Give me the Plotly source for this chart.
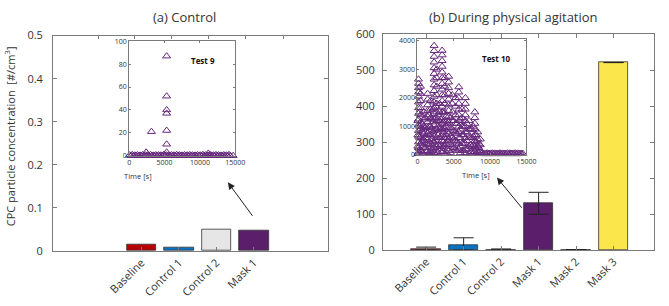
import plotly.graph_objects as go

W, H = 669, 306

# ---------------- data ----------------
ctrl_cats = ["Baseline", "Control 1", "Control 2", "Mask 1"]
ctrl_vals = [0.015, 0.0077, 0.0497, 0.048]
ctrl_colors = ["#b80000", "#0a72c2", "#e6e6e6", "#5a1e6b"]

agit_cats = ["Baseline", "Control 1", "Control 2", "Mask 1", "Mask 2", "Mask 3"]
agit_vals = [2.6, 13.0, 1.0, 129.5, 0.5, 521.0]
agit_err_plus = [5.5, 21.0, 2.0, 31.0, 0.5, None]
agit_err_minus = [2.6, 13.0, 1.0, 30.0, 0.5, None]
agit_colors = ["#b80000", "#0a72c2", "#e6e6e6", "#5a1e6b", "#2a9d8f", "#fbe64c"]

inset_ticks = [0, 5000, 10000, 15000]
inset_tick_text = ["0", "5000", "10000", "15000"]

# Test 9 (control inset): time [s], concentration [#/cm3]
test9_time = [2400, 3150, 5300, 5300, 5300, 5300, 5300, 5300, 5300, 11200, 14700,
              60, 250, 430, 610, 800, 980, 1170, 1350, 1540, 1720, 1910, 2090, 2280,
              2460, 2650, 2830, 3020, 3200, 3390, 3570, 3760, 3940, 4130, 4310, 4500,
              4680, 4870, 5050, 5240, 5420, 5610, 5790, 5980, 6160, 6350, 6530, 6720,
              6900, 7090, 7270, 7460, 7640, 7830, 8010, 8200, 8380, 8570, 8750, 8940,
              9120, 9310, 9490, 9680, 9860, 10050, 10230, 10420, 10600, 10790, 10970,
              11160, 11340, 11530, 11710, 11900, 12080, 12270, 12450, 12640, 12820,
              13010, 13190, 13380, 13560, 13750, 13930, 14120, 14300]
test9_conc = [3, 21, 87, 52, 40, 37, 22, 10, 3, 2, 0,
              0.5, 0, 0.8, 0, 0.4, 0, 0.6, 0, 0.3, 0, 0.7, 0, 0.5,
              0, 0.4, 0, 0.8, 0, 0.3, 0, 0.6, 0, 0.5, 0, 0.4,
              0, 0.7, 0, 0.5, 0, 0.3, 0, 0.6, 0, 0.4, 0, 0.8,
              0, 0.5, 0, 0.3, 0, 0.6, 0, 0.4, 0, 0.7, 0, 0.5,
              0, 0.3, 0, 0.6, 0, 0.4, 0, 0.8, 0, 0.5, 0,
              0.3, 0, 0.6, 0, 0.4, 0, 0.7, 0, 0.5, 0,
              0.3, 0, 0.6, 0, 0.4, 0, 0.8, 0]

# Test 10 (agitation inset): columns of readings at given times
test10_col_time = [150, 420, 900, 1400, 1800, 2300, 2650, 3050, 3400, 3750, 4300,
                   4800, 5250, 5700, 6150, 6600, 7100, 7500, 7900, 8300, 8650]
test10_col_conc = [
    [2650, 2500, 2350, 2200, 2050, 1850, 1650, 1450, 1250, 1050, 850, 650, 450, 250, 90],
    [2400, 2150, 1900, 1650, 1400, 1150, 900, 650, 400, 150],
    [1500, 1250, 1000, 750, 500, 250],
    [2150, 1950, 1750, 1550, 1350, 1150, 950, 750, 550, 350, 150],
    [1900, 1600, 1300, 1000, 700, 400, 120],
    [3830, 3650, 3450, 3250, 3050, 2850, 2650, 2450, 2250, 2050, 1850, 1650, 1450,
     1250, 1050, 850, 650, 450, 250, 80],
    [3000, 2700, 2400, 2100, 1800, 1500, 1200, 900, 600, 300],
    [1800, 1500, 1200, 900, 600, 300],
    [3660, 3500, 3300, 3100, 2900, 2700, 2500, 2300, 2100, 1900, 1700, 1500, 1300,
     1100, 900, 700, 500, 300, 100],
    [2700, 2400, 2100, 1800, 1500, 1200, 900, 600, 300],
    [2750, 2550, 2350, 2150, 1950, 1750, 1550, 1350, 1150, 950, 750, 550, 350, 150],
    [2100, 1800, 1500, 1200, 900, 600, 300],
    [2000, 1700, 1400, 1100, 800, 500, 200],
    [2380, 2200, 2000, 1800, 1600, 1400, 1200, 1000, 800, 600, 400, 200],
    [1600, 1300, 1000, 700, 400, 150],
    [2000, 1800, 1600, 1400, 1200, 1000, 800, 600, 400, 200, 80],
    [1200, 900, 600, 300],
    [900, 600, 300, 100],
    [1500, 1300, 1100, 900, 700, 500, 300, 120],
    [800, 550, 300, 100],
    [550, 350, 150],
]
# lower readings between the peaks
test10_fill_time = [60, 300, 600, 750, 1100, 1250, 1600, 2000, 2150, 2500, 2850, 3250,
                    3550, 3950, 4100, 4550, 5000, 5450, 5900, 6350, 6800, 7300, 7700,
                    8100, 8450]
test10_fill_conc = [
    [1200, 700, 300, 40], [1500, 1000, 600, 200], [1100, 800, 450, 120],
    [900, 550, 300, 60], [1300, 950, 600, 250], [1000, 700, 400, 100],
    [1400, 1000, 700, 350, 80], [1250, 900, 550, 200], [1600, 1150, 800, 450, 150],
    [1700, 1300, 900, 500, 200], [1400, 1000, 700, 350, 90], [1250, 950, 650, 350, 100],
    [1500, 1150, 800, 450, 120], [1350, 1000, 700, 400, 100], [1100, 800, 500, 200],
    [1300, 950, 650, 350, 80], [1200, 850, 550, 250], [1100, 750, 450, 150],
    [1250, 900, 600, 300, 70], [1000, 700, 400, 150], [1100, 800, 500, 200],
    [900, 600, 350, 100], [1000, 650, 350, 90], [700, 450, 200], [400, 250, 80],
]
test10_band_time = [8900, 9080, 9250, 9430, 9600, 9780, 9950, 10130, 10300, 10480, 10650,
                    10830, 11000, 11180, 11350, 11530, 11700, 11880, 12050, 12230, 12400,
                    12580, 12750, 12930, 13100, 13280, 13450, 13630, 13800, 13980, 14150,
                    14330, 14500]
test10_band_conc = [60, 40, 55, 35, 60, 45, 50, 40, 60, 35, 55, 45, 50, 40, 60, 35, 55,
                    45, 50, 40, 60, 35, 55, 45, 50, 40, 60, 35, 55, 45, 50, 40, 50]

# ---------------- helpers ----------------
def fx(p):
    return p / W

def fy(p):
    return 1 - p / H

FONT = "Open Sans"
AX_LINE = "#7a7a7a"
TXT = "#333333"
MARK = "#66287c"

t10_x, t10_y = [], []
for times, groups in ((test10_col_time, test10_col_conc), (test10_fill_time, test10_fill_conc)):
    for t, vals in zip(times, groups):
        for v in vals:
            t10_x.append(t)
            t10_y.append(v)
t10_x += test10_band_time
t10_y += test10_band_conc

fig = go.Figure()

fig.add_trace(go.Bar(x=ctrl_cats, y=ctrl_vals, width=0.79,
                     marker=dict(color=ctrl_colors, line=dict(color="#333333", width=0.8)),
                     xaxis="x", yaxis="y", showlegend=False))
fig.add_trace(go.Scatter(x=[None], y=[None], xaxis="x3", yaxis="y", showlegend=False,
                         hoverinfo="skip", mode="markers"))
fig.add_trace(go.Bar(x=agit_cats, y=agit_vals, width=0.79,
                     marker=dict(color=agit_colors, line=dict(color="#333333", width=0.8)),
                     error_y=dict(type="data", symmetric=False, array=agit_err_plus,
                                  arrayminus=agit_err_minus, color="#222222",
                                  thickness=1, width=10),
                     xaxis="x2", yaxis="y2", showlegend=False))
fig.add_trace(go.Scatter(x=test9_time, y=test9_conc, mode="markers", cliponaxis=False,
                         marker=dict(symbol="triangle-up-open", size=7, color=MARK,
                                     line=dict(width=1, color=MARK)),
                         xaxis="x4", yaxis="y4", showlegend=False))
fig.add_trace(go.Scatter(x=t10_x, y=t10_y, mode="markers", cliponaxis=False,
                         marker=dict(symbol="triangle-up-open", size=7, color=MARK,
                                     line=dict(width=1, color=MARK)),
                         xaxis="x5", yaxis="y5", showlegend=False))

main_y = dict(showline=True, linecolor=AX_LINE, linewidth=1, mirror="ticks",
              ticks="inside", ticklen=4, tickcolor=AX_LINE, showgrid=False,
              zeroline=False, tickfont=dict(family=FONT, size=11, color=TXT))
main_x = dict(showline=True, linecolor=AX_LINE, linewidth=1, ticks="inside",
              ticklen=4, tickcolor=AX_LINE, showgrid=False, zeroline=False,
              tickangle=-45, tickfont=dict(family=FONT, size=11, color=TXT),
              type="category")
inset_ax = dict(showline=True, linecolor=AX_LINE, linewidth=1, mirror="ticks",
                ticks="inside", ticklen=2, tickcolor=AX_LINE, showgrid=False,
                zeroline=False, tickfont=dict(family=FONT, size=7, color=TXT))

fig.update_layout(
    width=W, height=H, margin=dict(l=0, r=0, t=0, b=0),
    paper_bgcolor="white", plot_bgcolor="white", bargap=0,
    xaxis=dict(main_x, domain=[fx(52), fx(332)], range=[-2.36, 4.98], anchor="y",
               mirror=True),
    yaxis=dict(main_y, domain=[fy(255.5), fy(29)], range=[0, 0.5], dtick=0.1,
               anchor="x", ticklabelstandoff=7),
    xaxis3=dict(overlaying="x", side="top", range=[-2.36, 4.98],
                tickvals=[-1.15, -0.18, 0.81, 1.78, 2.78, 3.80], showticklabels=False,
                ticks="inside", ticklen=3, tickcolor=AX_LINE, showline=False,
                showgrid=False, zeroline=False, anchor="y"),
    xaxis2=dict(main_x, domain=[fx(388), fx(664)], range=[-1.15, 6.08], anchor="y2",
                mirror="ticks"),
    yaxis2=dict(main_y, domain=[fy(254.5), fy(27.5)], range=[0, 600], dtick=100,
                anchor="x2", ticklabelstandoff=5),
    xaxis4=dict(inset_ax, domain=[fx(129.5), fx(237.5)], range=[0, 15000],
                tickvals=inset_ticks, ticktext=inset_tick_text, anchor="y4"),
    yaxis4=dict(inset_ax, domain=[fy(155.3), fy(35)], range=[0, 100], dtick=20,
                anchor="x4"),
    xaxis5=dict(inset_ax, domain=[fx(423), fx(534)], range=[0, 15000],
                tickvals=inset_ticks, ticktext=inset_tick_text, anchor="y5"),
    yaxis5=dict(inset_ax, domain=[fy(154.5), fy(33)], range=[0, 4050],
                tickvals=[0, 1000, 2000, 3000, 4000], anchor="x5"),
)

ann = [
    dict(text="(a) Control", x=fx(185.5), y=fy(9), size=13, bold=False),
    dict(text="(b) During physical agitation", x=fx(521), y=fy(9), size=13, bold=False),
    dict(text="<b>Test 9</b>", x=fx(205), y=fy(55), size=8, bold=True),
    dict(text="<b>Test 10</b>", x=fx(503), y=fy(53), size=8, bold=True),
    dict(text="Time [s]", x=fx(138), y=fy(177), size=7.5, bold=False),
    dict(text="Time [s]", x=fx(483), y=fy(176), size=7.5, bold=False),
]
for a in ann:
    fig.add_annotation(text=a["text"], x=a["x"], y=a["y"], xref="paper", yref="paper",
                       showarrow=False, xanchor="center", yanchor="middle",
                       font=dict(family=FONT, size=a["size"],
                                 color="#111111" if a["bold"] else TXT))

fig.add_annotation(text="CPC particle concentration  [#/cm<sup>3</sup>]",
                   x=fx(9), y=fy(135), xref="paper", yref="paper", showarrow=False,
                   textangle=-90, xanchor="center", yanchor="middle",
                   font=dict(family=FONT, size=11, color=TXT))

for tip, tail in [((230, 183.3), (255.7, 218.3)), ((504, 178.3), (530, 210))]:
    fig.add_annotation(x=fx(tip[0]), y=fy(tip[1]), xref="paper", yref="paper",
                       ax=tail[0] - tip[0], ay=tail[1] - tip[1], text="",
                       showarrow=True, arrowhead=2, arrowsize=1.4, arrowwidth=1,
                       arrowcolor="#222222", standoff=0)

fig.write_html("out.html")
